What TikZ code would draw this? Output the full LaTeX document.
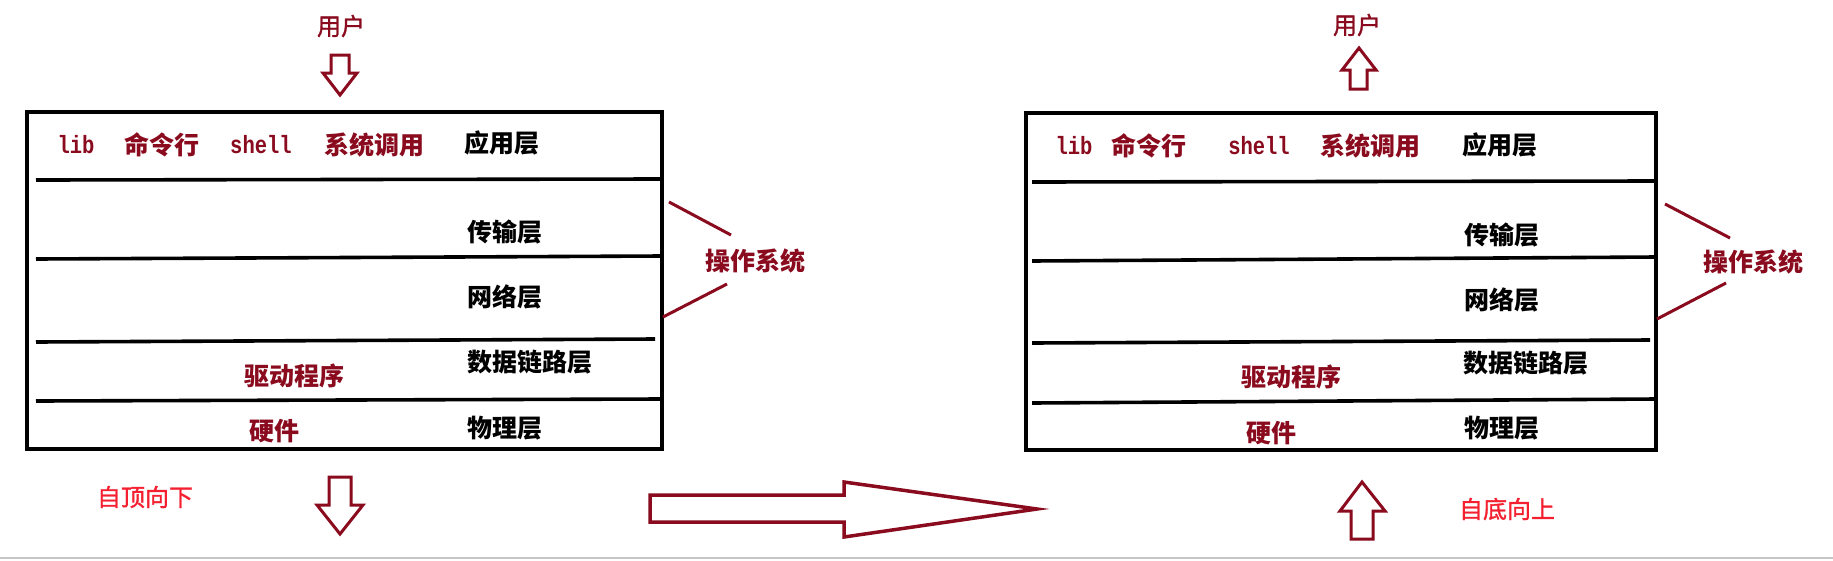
\documentclass[tikz,border=0pt]{standalone}
\usepackage{fontspec}
\newfontfamily\cjk{Noto Sans CJK SC}
\newfontfamily\cjkm[FakeBold=1.2]{Noto Sans CJK SC}
\newfontfamily\mono[FakeStretch=0.82]{Liberation Mono}
\definecolor{dred}{HTML}{8A0A1E}
\definecolor{bred}{HTML}{F42030}
\begin{document}
\begin{tikzpicture}[x=1pt,y=-1pt,
  lay/.style={font=\cjk\bfseries\fontsize{25}{25}\selectfont, inner sep=0, text=black},
  redlab/.style={font=\cjk\bfseries\fontsize{25}{25}\selectfont, inner sep=0, text=dred},
  userlab/.style={font=\cjkm\fontsize{24}{24}\selectfont, inner sep=0, text=dred},
  dirlab/.style={font=\cjkm\fontsize{24}{24}\selectfont, inner sep=0, text=bred},
  monolab/.style={font=\mono\bfseries\fontsize{25}{25}\selectfont, inner sep=0, text=dred},
  boxline/.style={line width=4pt, black},
  sepline/.style={line width=3.6pt, black},
  blockarrow/.style={draw=dred, line width=3pt, line join=miter, fill=white},
  braceline/.style={draw=dred, line width=3pt}
]
\useasboundingbox (0,0) rectangle (1833,560);
\fill[white] (0,0) rectangle (1833,560);
\draw[gray!45, line width=2pt] (0,558) -- (1833,558);

% ---------- left stack ----------
\draw[boxline] (27,112) rectangle (662,449);
\draw[sepline] (36,180) -- (662,179);
\draw[sepline] (36,259) -- (662,256);
\draw[sepline] (36,342) -- (655,339);
\draw[sepline] (36,401) -- (662,399);

\node[monolab] (llib) at (76,145) {lib};
\node[redlab] (lcmd) at (162,145) {命令行};
\node[monolab] (lshell) at (261,145) {shell};
\node[redlab] (lsys) at (374,145) {系统调用};
\node[lay] (lapp) at (502,143) {应用层};
\node[lay] (ltrans) at (505,232) {传输层};
\node[lay] (lnet) at (505,297) {网络层};
\node[lay, anchor=west] (llink) at (467,362) {数据链路层};
\node[lay] (lphy) at (505,428) {物理层};
\node[redlab] (ldrv) at (294,376) {驱动程序};
\node[redlab] (lhw) at (274,431) {硬件};

\node[userlab] (luser) at (341,26) {用户};
\draw[blockarrow] (331,55) -- (349,55) -- (349,73) -- (357,73) -- (340,95) -- (323,73) -- (331,73) -- cycle;

\node[redlab] (los) at (755,261) {操作系统};
\coordinate (lb1) at (669,202);
\coordinate (lb2) at (731,235);
\coordinate (lb3) at (663,317);
\coordinate (lb4) at (727,284);
\draw[braceline] (lb1) -- (lb2);
\draw[braceline] (lb3) -- (lb4);

\node[dirlab] (ltd) at (145,497) {自顶向下};
\draw[blockarrow] (329,477) -- (351,477) -- (351,505) -- (363,505) -- (340,534) -- (317,505) -- (329,505) -- cycle;

% ---------- big arrow ----------
\draw[blockarrow, line width=3.5pt] (650,495) -- (844,495) -- (844,482) -- (1037,509) -- (844,537) -- (844,522) -- (650,522) -- cycle;

% ---------- right stack ----------
\draw[boxline] (1026,113) rectangle (1656,450);
\draw[sepline] (1032,182) -- (1656,181);
\draw[sepline] (1032,261) -- (1656,257);
\draw[sepline] (1032,343) -- (1650,340);
\draw[sepline] (1032,403) -- (1656,399);

\node[monolab] (rlib) at (1074,146) {lib};
\node[redlab] (rcmd) at (1149,146) {命令行};
\node[monolab] (rshell) at (1259,146) {shell};
\node[redlab] (rsys) at (1370,146) {系统调用};
\node[lay] (rapp) at (1500,145) {应用层};
\node[lay] (rtrans) at (1502,235) {传输层};
\node[lay] (rnet) at (1502,300) {网络层};
\node[lay, anchor=west] (rlink) at (1463,363) {数据链路层};
\node[lay] (rphy) at (1502,428) {物理层};
\node[redlab] (rdrv) at (1291,377) {驱动程序};
\node[redlab] (rhw) at (1271,433) {硬件};

\node[userlab] (ruser) at (1357,25) {用户};
\draw[blockarrow] (1350,89) -- (1367,89) -- (1367,70) -- (1376,70) -- (1359,48) -- (1342,70) -- (1350,70) -- cycle;

\node[redlab] (ros) at (1753,262) {操作系统};
\coordinate (rb1) at (1665,204);
\coordinate (rb2) at (1730,238);
\coordinate (rb3) at (1657,319);
\coordinate (rb4) at (1726,283);
\draw[braceline] (rb1) -- (rb2);
\draw[braceline] (rb3) -- (rb4);

\node[dirlab] (rbu) at (1507,509) {自底向上};
\draw[blockarrow] (1351,539) -- (1373,539) -- (1373,511) -- (1385,511) -- (1362,482) -- (1340,511) -- (1351,511) -- cycle;
\end{tikzpicture}
\end{document}
